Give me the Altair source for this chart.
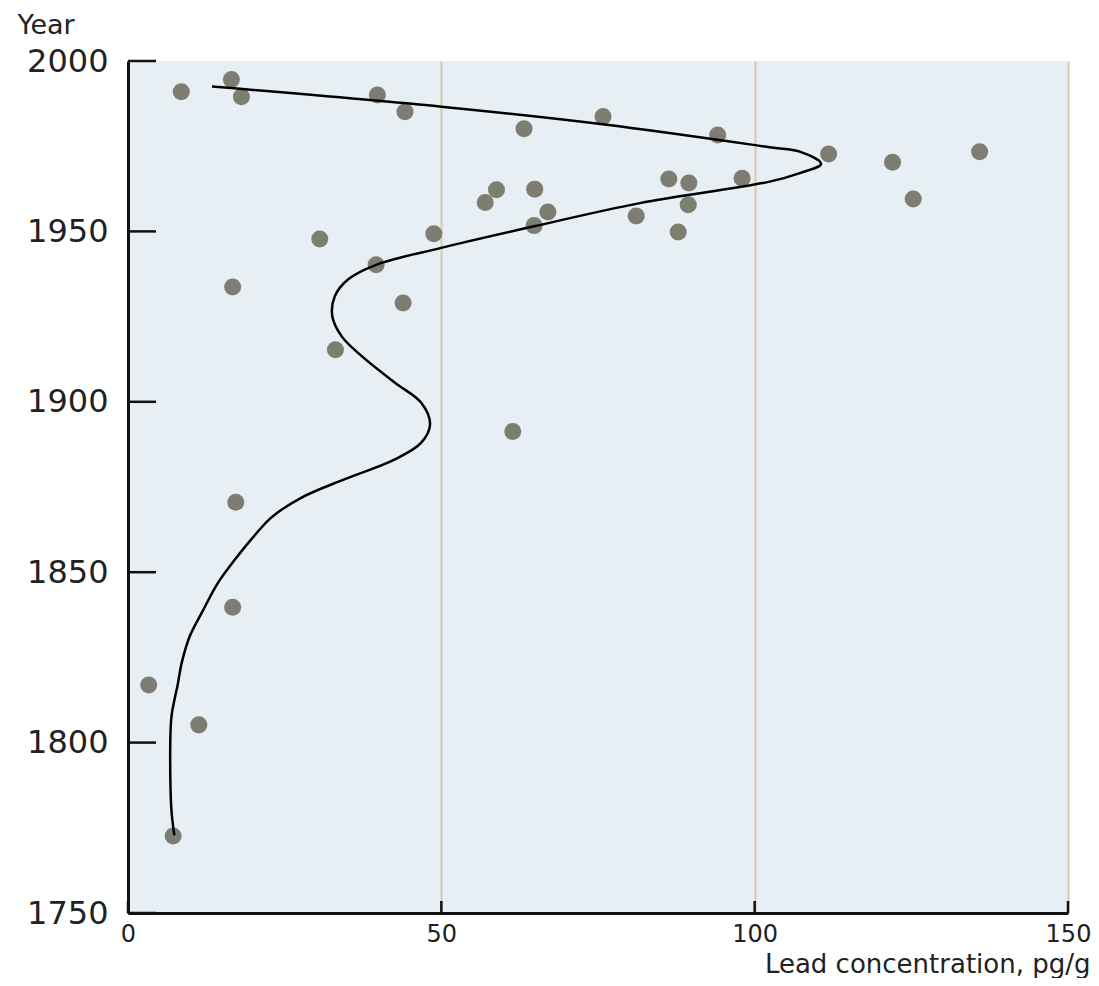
import altair as alt
import pandas as pd

# Measured samples (lead concentration, pg/g ; year)
conc = [8.5, 16.5, 18.1, 39.8, 44.2, 75.8, 63.2, 94.1, 111.8, 135.9, 122.0, 98.0,
        86.3, 89.5, 58.8, 64.9, 125.3, 57.0, 89.4, 67.0, 81.1, 64.8, 87.8, 48.8,
        30.6, 39.6, 16.7, 43.9, 33.1, 61.4, 17.2, 16.7, 3.3, 11.3, 7.2]
year = [1991.0, 1994.6, 1989.5, 1990.0, 1985.1, 1983.7, 1980.1, 1978.3, 1972.7,
        1973.4, 1970.3, 1965.6, 1965.4, 1964.2, 1962.2, 1962.4, 1959.5, 1958.5,
        1957.8, 1955.7, 1954.5, 1951.7, 1949.8, 1949.3, 1947.8, 1940.2, 1933.7,
        1929.0, 1915.3, 1891.3, 1870.5, 1839.7, 1816.9, 1805.2, 1772.6]

# Smoothed curve
curve_conc = [13.4, 50.0, 76.4, 102.4, 107.2, 110.6, 107.2, 102.4, 81.7, 64.8, 49.8,
              39.6, 35.1, 33.0, 32.6, 34.1, 37.3, 42.6, 46.8, 48.2, 46.8, 42.6, 34.6,
              27.7, 22.9, 19.7, 17.1, 14.4, 11.8, 9.9, 8.6, 7.9, 7.5, 6.9, 6.9, 7.4]
curve_year = [1992.5, 1986.6, 1981.3, 1974.7, 1973.4, 1969.8, 1967.1, 1964.6, 1958.3,
              1951.5, 1945.1, 1940.2, 1935.9, 1931.0, 1925.1, 1919.2, 1913.4, 1905.6,
              1899.7, 1893.4, 1888.0, 1883.1, 1877.3, 1871.9, 1866.1, 1859.7, 1853.8,
              1847.0, 1838.2, 1831.4, 1823.6, 1816.7, 1813.3, 1807.0, 1781.1, 1772.8]

ytick_years = [1750, 1800, 1850, 1900, 1950, 2000]
xtick_vals = [0, 50, 100, 150]

W, H = 940, 852
FONT = "DejaVu Sans"
TXT = "#222222"

xscale = alt.Scale(domain=[0, 150], nice=False, zero=False)
yscale = alt.Scale(domain=[1750, 2000], nice=False, zero=False)

xaxis = alt.Axis(
    values=xtick_vals, format="d", title="Lead concentration, pg/g",
    grid=True, gridColor="#d9c8ae", gridWidth=2, gridOpacity=1,
    ticks=False, tickSize=0, labelPadding=9, labelFlush=False,
    labelFont=FONT, labelFontSize=24, labelColor=TXT,
    titleFont=FONT, titleFontSize=26, titleFontWeight="normal", titleColor=TXT,
    titleAlign="right", titleX=962, titleY=59, titleBaseline="alphabetic",
    domainColor="#111111", domainWidth=3,
)
yaxis = alt.Axis(
    values=ytick_years, format="d", title="Year",
    grid=False, ticks=False, tickSize=0, labelPadding=20, labelFlush=False,
    labelFont=FONT, labelFontSize=32, labelColor=TXT,
    titleFont=FONT, titleFontSize=27, titleFontWeight="normal", titleColor=TXT,
    titleAngle=0, titleAlign="left", titleX=-111, titleY=-28,
    titleBaseline="alphabetic",
    domainColor="#111111", domainWidth=3,
)

pts_df = pd.DataFrame({"conc": conc, "year": year})
curve_df = pd.DataFrame({"conc": curve_conc, "year": curve_year,
                         "idx": list(range(len(curve_conc)))})

points = alt.Chart(pts_df).mark_circle(size=290, color="#7d7d71", opacity=1).encode(
    x=alt.X("conc:Q", scale=xscale, axis=xaxis),
    y=alt.Y("year:Q", scale=yscale, axis=yaxis),
)

line = alt.Chart(curve_df).mark_line(color="#000000", strokeWidth=2.5,
                                     interpolate="catmull-rom").encode(
    x=alt.X("conc:Q", scale=xscale, axis=xaxis),
    y=alt.Y("year:Q", scale=yscale, axis=yaxis),
    order=alt.Order("idx:Q"),
)

yticks = alt.Chart(pd.DataFrame({"year": ytick_years})).mark_rule(
    color="#111111", strokeWidth=2.5).encode(
    y=alt.Y("year:Q", scale=yscale, axis=yaxis),
    x=alt.value(0), x2=alt.value(28),
)

xticks = alt.Chart(pd.DataFrame({"conc": xtick_vals})).mark_rule(
    color="#111111", strokeWidth=2.5).encode(
    x=alt.X("conc:Q", scale=xscale, axis=xaxis),
    y=alt.value(H), y2=alt.value(H - 12),
)

chart = alt.layer(points, line, yticks, xticks).properties(
    width=W, height=H,
    padding={"left": 120, "top": 53, "right": 23, "bottom": 65},
    autosize=alt.AutoSizeParams(type="none"),
    background="#ffffff",
).configure_view(fill="#e7eef4", strokeWidth=0)

chart.save("out.html", embed_options={"renderer": "svg", "actions": False})
